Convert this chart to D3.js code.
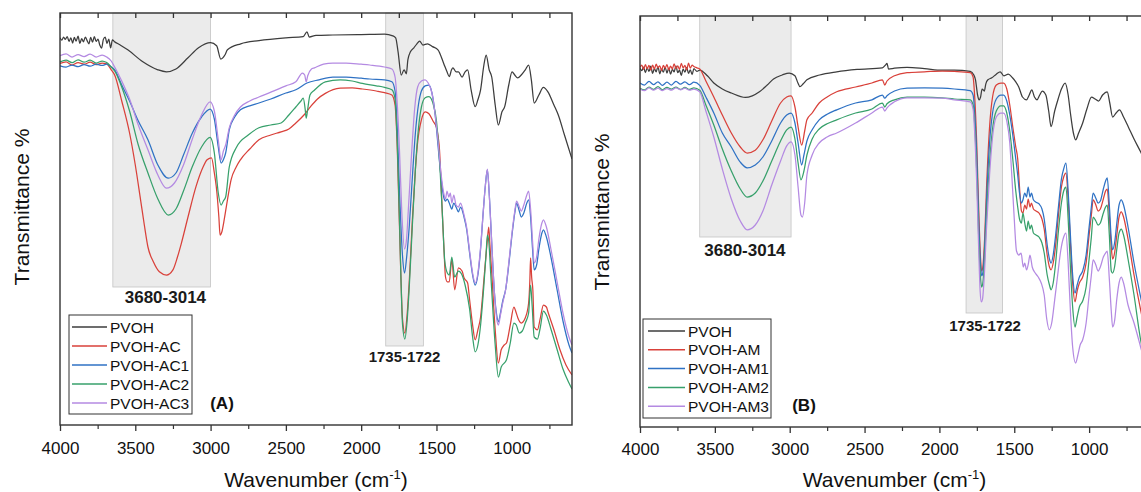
<!DOCTYPE html>
<html><head><meta charset="utf-8">
<script src="https://cdn.jsdelivr.net/npm/d3@7"></script>
<style>body{margin:0;background:#fff}svg{display:block}text{font-family:"Liberation Sans",Arial,sans-serif}</style>
</head><body>
<svg id="c" width="1141" height="492"></svg>
<script>
// ---------- DATA ----------
const majorTicks = [4000,3500,3000,2500,2000,1500,1000];
const minorTicks = [3750,3250,2750,2250,1750,1250,750];
const namesA = ["PVOH","PVOH-AC","PVOH-AC1","PVOH-AC2","PVOH-AC3"];
const namesB = ["PVOH","PVOH-AM","PVOH-AM1","PVOH-AM2","PVOH-AM3"];
const colors = ["#3d3d3d","#d9413a","#2f72c4","#37a06b","#b48ae2"];
const regionsA = [{from:3649,to:3000,bottom:34.5,label:"3680-3014",lx:3300,ly:30.5,fs:17},{from:1837,to:1587,bottom:19.75,label:"1735-1722",lx:1712,ly:15.75,fs:15}];
const regionsB = [{from:3601,to:2991,bottom:47.5,label:"3680-3014",lx:3299,ly:42.8,fs:17},{from:1822,to:1578,bottom:28.5,label:"1735-1722",lx:1695,ly:24,fs:15}];

// Panel A spectra [wavenumber, transmittance (a.u.)]
const pvohA = [[4000,96.8],[3988,96.2],[3976,97.0],[3965,96.4],[3952,97.1],[3940,95.9],[3928,96.8],[3916,95.5],[3905,96.9],[3893,96.0],[3880,97.2],[3868,95.4],[3856,96.6],[3844,95.8],[3832,97.0],[3820,96.1],[3808,95.3],[3796,96.9],[3784,95.7],[3772,97.1],[3760,95.9],[3748,96.5],[3736,95.0],[3724,94.2],[3712,96.4],[3700,97.0],[3688,95.4],[3676,96.5],[3664,94.3],[3652,96.3],[3640,95.9],[3600,95.0],[3550,93.8],[3450,90.8],[3350,88.8],[3293,88.3],[3230,89.0],[3150,91.8],[3080,94.3],[3000,95.6],[2960,94.8],[2932,91.5],[2905,92.5],[2888,93.8],[2800,95.3],[2679,96.1],[2500,96.8],[2385,97.1],[2360,98.3],[2345,97.0],[2300,97.4],[2188,97.5],[2000,97.6],[1845,97.7],[1790,97.3],[1771,96.8],[1755,93.3],[1734,87.5],[1715,88.8],[1700,87.8],[1690,91.3],[1673,93.3],[1650,94.3],[1630,95.3],[1612,96.0],[1590,95.0],[1560,95.3],[1526,94.6],[1490,93.8],[1452,90.4],[1430,88.3],[1415,87.1],[1400,88.8],[1391,89.3],[1370,88.3],[1354,88.3],[1330,87.0],[1310,88.3],[1293,88.8],[1270,83.8],[1243,79.6],[1225,81.3],[1207,83.8],[1185,90.0],[1170,92.5],[1150,88.8],[1133,87.0],[1110,80.0],[1089,75.0],[1065,78.3],[1047,79.6],[1020,85.0],[998,88.3],[980,87.5],[961,86.8],[937,87.5],[910,88.8],[888,90.0],[870,86.3],[851,80.5],[820,82.5],[790,84.4],[760,83.3],[720,80.0],[691,77.5],[650,72.5],[600,66.5]];
const acA = [[4000,90.4],[3960,90.8],[3920,90.0],[3880,90.6],[3840,90.2],[3800,90.7],[3760,90.1],[3720,90.5],[3690,90.3],[3660,88.8],[3637,87.5],[3590,81],[3538,73.0],[3500,65],[3465,56.3],[3440,50],[3416,44.5],[3380,40.8],[3340,38.3],[3293,37.5],[3250,38.8],[3220,42],[3195,45.3],[3150,52],[3097,59.6],[3050,64.5],[3023,66.3],[2994,66.8],[2975,63],[2962,59.5],[2945,52],[2937,47.5],[2925,48.3],[2912,50.8],[2888,56.3],[2864,61.3],[2830,64.5],[2802,66.3],[2740,69],[2679,71.3],[2600,72.5],[2532,73.3],[2480,74],[2434,75.5],[2380,77.5],[2336,79.6],[2290,81.5],[2238,82.9],[2139,84.2],[2060,84.3],[1992,84.0],[1900,83.5],[1845,83.1],[1796,82.5],[1775,80],[1760,68.8],[1745,48.8],[1725,26.3],[1710,23.0],[1695,27.5],[1680,36.3],[1660,51.3],[1640,63.8],[1627,70.0],[1600,76.3],[1575,78.3],[1550,77.8],[1520,75.8],[1501,74.5],[1480,68.8],[1465,56.3],[1450,43.8],[1440,37],[1428,35.8],[1415,35.8],[1398,41.3],[1379,33.8],[1354,39.3],[1330,38.5],[1317,36.8],[1293,35.5],[1280,31.3],[1260,25],[1243,21.3],[1225,23.8],[1207,27.0],[1185,36.3],[1170,43],[1162,46.3],[1153,49.5],[1145,45],[1133,38.0],[1110,23.8],[1089,15.5],[1070,18.8],[1050,20],[1035,20.5],[1010,25],[986,29.5],[970,28],[960,26.8],[937,25.5],[910,26.8],[888,30.5],[880,36],[875,41.8],[868,37],[860,33.8],[851,24.5],[830,23.8],[810,26.8],[790,30],[770,29.5],[760,28.3],[720,23.8],[680,18.8],[640,15],[600,12.5]];
const ac1A = [[4000,89.8],[3960,89.5],[3920,90.0],[3880,89.6],[3840,90.1],[3800,89.7],[3760,90.2],[3720,89.9],[3690,90.2],[3660,89.5],[3637,88.8],[3590,85],[3538,81],[3480,76],[3416,71.3],[3350,65],[3281,61.7],[3230,63],[3180,67.5],[3121,73],[3060,77],[3003,79],[2975,76.5],[2949,69.5],[2930,65.5],[2913,66.5],[2900,68],[2876,73.8],[2840,77],[2802,78.8],[2740,79.8],[2679,80.5],[2600,81.5],[2500,83],[2434,83.8],[2360,85.5],[2280,86.3],[2188,87],[2100,87],[2000,86.7],[1943,86.5],[1845,86.3],[1796,85.8],[1775,83.5],[1760,74],[1745,58],[1725,42],[1712,38],[1698,42],[1680,50],[1660,62],[1640,73],[1620,80],[1600,83.5],[1575,84.8],[1550,85],[1530,83],[1510,78],[1490,70],[1470,62],[1452,57],[1440,56],[1428,56.5],[1415,55.5],[1398,54],[1385,55.5],[1370,54.5],[1354,53.3],[1340,54.5],[1317,52],[1300,49],[1280,43],[1260,37.5],[1243,35],[1225,37.5],[1207,44],[1190,53],[1175,60],[1162,63.8],[1150,58],[1135,47],[1115,33],[1100,27.5],[1089,25.8],[1075,28],[1060,31],[1040,34],[1020,40],[1000,47],[980,53],[968,55.5],[950,53.5],[937,52],[920,53],[900,55.5],[888,56.3],[875,52],[862,44],[851,38.8],[835,40],[820,44],[800,48],[790,48.8],[770,47],[740,42],[700,34],[660,26],[620,20],[600,18]];
const ac2A = [[4000,90.8],[3960,91.2],[3920,90.6],[3880,91.3],[3840,90.7],[3800,91.2],[3760,90.5],[3720,91.0],[3690,90.6],[3660,89.5],[3637,88.5],[3590,84.5],[3538,78.5],[3480,70],[3416,63],[3350,56.5],[3281,52.5],[3230,54],[3180,58.5],[3121,64.6],[3060,69.5],[3003,71.9],[2975,68],[2949,58],[2930,55],[2915,56],[2900,57],[2876,64.5],[2827,69.5],[2750,72.5],[2679,74.3],[2600,75],[2532,75.5],[2480,77.5],[2434,79.5],[2400,81],[2385,81.7],[2372,79],[2365,76.7],[2355,79],[2340,82.5],[2311,83.7],[2238,85.8],[2139,86.3],[2060,86],[1992,85.4],[1900,84.8],[1845,84.4],[1796,83.8],[1775,81.5],[1760,70],[1745,50],[1725,25],[1710,21.5],[1695,26],[1680,35],[1660,50],[1640,64],[1620,74],[1600,79.5],[1575,81.8],[1550,82.1],[1520,80],[1500,76],[1477,64.5],[1460,52],[1445,41],[1428,38],[1415,37.5],[1398,42],[1379,37],[1354,38.5],[1330,37.5],[1310,35],[1280,29],[1260,22],[1243,18.3],[1225,20],[1207,25],[1185,35],[1170,43],[1162,47.5],[1153,46],[1140,38],[1110,20],[1089,12.0],[1070,14.5],[1035,16.3],[1010,20.5],[986,25.5],[970,25],[950,23],[930,23.5],[910,25.5],[888,28],[875,35],[865,30],[851,22],[830,21.5],[810,24.5],[790,28.5],[770,27.5],[740,24],[700,19],[660,14],[620,10.5],[600,9]];
const ac3A = [[4000,92.3],[3960,92.8],[3920,92.0],[3880,92.6],[3840,92.1],[3800,92.7],[3760,92.0],[3720,92.5],[3690,92.0],[3660,91],[3637,89.5],[3590,86],[3538,81.5],[3480,75],[3416,68.8],[3350,62.5],[3293,59.2],[3240,60.5],[3180,65],[3121,71.5],[3060,77.5],[3003,80.8],[2975,78.5],[2949,71.3],[2930,66.3],[2915,68.5],[2900,70],[2876,74.3],[2840,77.5],[2802,79.5],[2740,81],[2679,82],[2600,83.2],[2500,84.8],[2434,85.8],[2390,88],[2375,87.5],[2365,85.8],[2355,87.3],[2330,89],[2311,89.3],[2250,90.2],[2188,90.5],[2100,90.5],[2000,90.2],[1943,90],[1845,89.5],[1796,89],[1775,87],[1760,80],[1745,68],[1730,53],[1712,44],[1700,46],[1685,55],[1665,68],[1645,79],[1625,84.5],[1600,86],[1575,86.3],[1555,85.5],[1530,83],[1510,78],[1490,71],[1470,63],[1452,58],[1440,56.5],[1430,58.5],[1418,57],[1408,58],[1398,55.5],[1385,57.5],[1370,55],[1354,54.5],[1340,55.5],[1317,52.5],[1300,49.5],[1280,43.5],[1260,38],[1243,35.5],[1225,38],[1207,44.5],[1190,53],[1175,60],[1162,64],[1150,58],[1135,47],[1115,33],[1100,26.5],[1089,25],[1075,27.5],[1060,30.5],[1040,34],[1020,40.5],[1000,47.5],[980,53.5],[968,56],[950,54.5],[937,53.5],[920,55],[900,57.5],[888,58.5],[875,54],[862,46],[851,40.5],[835,42],[820,46.5],[800,50.5],[790,51.3],[770,49.5],[740,44],[700,36],[660,28],[620,22],[600,20]];

// Panel B spectra
const pvohB = [[4000,89.7],[3988,89.1],[3976,90.0],[3964,88.6],[3952,89.8],[3940,88.9],[3928,90.2],[3916,88.4],[3904,89.6],[3892,88.8],[3880,90.1],[3868,88.3],[3856,89.5],[3844,88.7],[3832,90.0],[3820,88.5],[3808,89.7],[3796,88.2],[3784,89.4],[3772,88.8],[3760,90.3],[3748,88.6],[3736,89.2],[3724,87.9],[3712,89.5],[3700,88.7],[3688,89.9],[3676,88.4],[3664,89.3],[3652,88.1],[3640,89.6],[3620,88.9],[3601,89.2],[3550,87.8],[3507,86],[3450,84.5],[3390,83.5],[3296,82.4],[3250,82.8],[3202,83.8],[3150,85.5],[3108,87],[3050,88],[3003,88.5],[2965,87.8],[2945,86],[2932,85.1],[2910,85.8],[2885,86.8],[2800,88],[2686,88.8],[2550,89.4],[2381,89.8],[2360,90.5],[2350,90.9],[2340,89.5],[2300,89.7],[2216,89.9],[2100,89.6],[1982,89.2],[1900,89.2],[1794,88.9],[1770,88],[1759,86.8],[1745,83],[1735,81.8],[1725,82.5],[1715,84.5],[1700,84],[1690,85.8],[1676,86.8],[1650,87.3],[1620,88.2],[1594,88.8],[1570,87.8],[1540,88.2],[1512,87.3],[1490,86.3],[1470,85],[1445,82.5],[1418,81.8],[1400,83],[1383,84.3],[1365,82.5],[1348,81.8],[1330,83],[1313,84],[1289,83],[1270,79],[1254,75.1],[1230,79],[1207,82],[1185,84.5],[1160,86],[1140,83],[1125,78.5],[1105,73.5],[1090,71.8],[1070,73.5],[1043,76],[1015,79.5],[984,82.5],[960,82],[937,81.5],[910,83],[879,83.8],[862,81],[843,77.5],[820,78.5],[797,79.3],[770,77.5],[738,75],[700,72],[656,68.8],[620,66],[600,64.5]];
const amB = [[4000,89.9],[3988,90.5],[3976,89.4],[3964,90.6],[3952,89.6],[3940,90.4],[3928,89.2],[3916,90.5],[3904,89.5],[3892,90.7],[3880,89.8],[3868,90.3],[3856,89.1],[3844,90.4],[3832,89.7],[3820,90.6],[3808,89.3],[3796,90.2],[3784,89.5],[3772,90.8],[3760,89.6],[3748,90.3],[3736,89.4],[3724,90.9],[3712,89.8],[3700,90.4],[3688,89.3],[3676,91.0],[3664,89.7],[3652,90.5],[3640,90.1],[3620,89.8],[3601,89.5],[3560,86.5],[3507,82.5],[3450,78],[3390,73.5],[3330,70],[3284,68.5],[3230,69.2],[3179,71.8],[3120,76.5],[3061,81],[3020,82.5],[2991,82.8],[2965,80],[2944,75],[2920,70.5],[2900,74],[2885,76.8],[2850,78.5],[2803,81],[2750,82.5],[2686,83.8],[2560,85],[2451,86],[2381,86.8],[2365,85.5],[2350,86.5],[2300,87.8],[2216,88.6],[2100,88.8],[1982,89],[1900,88.9],[1794,88.6],[1775,87.5],[1765,83],[1750,70],[1738,55],[1725,42],[1718,39],[1710,40],[1698,47],[1685,60],[1665,75],[1645,82.5],[1620,85.5],[1590,86],[1571,86],[1550,84.5],[1530,80.5],[1510,75],[1490,70],[1477,67],[1465,60],[1452,54],[1442,53.5],[1430,55.5],[1418,54.5],[1407,57],[1395,55],[1385,56],[1372,54.5],[1355,54],[1335,53.5],[1315,52],[1300,49.5],[1280,43],[1265,40],[1254,39.3],[1240,41],[1225,45],[1205,53],[1185,60],[1170,62.5],[1155,63.5],[1140,57],[1125,46],[1110,36],[1094,31.3],[1080,34],[1065,36],[1043,37.5],[1020,41],[1000,48],[985,53],[973,56.8],[955,55.5],[940,54],[925,54.5],[905,57],[890,59],[879,59.5],[865,53],[852,45],[843,42],[830,43.5],[815,48],[800,52.5],[785,53.8],[770,52.5],[740,47],[700,38],[656,29.3],[620,23],[600,20]];
const am1B = [[4000,86.0],[3970,85.5],[3940,86.4],[3910,85.6],[3880,86.3],[3850,85.4],[3820,86.2],[3790,85.5],[3760,86.4],[3730,85.7],[3700,86.3],[3670,85.6],[3640,86.2],[3601,85.4],[3560,82.5],[3507,78.5],[3450,73.5],[3390,70],[3330,66.2],[3284,64.8],[3230,65.5],[3179,67.5],[3120,71.5],[3061,76],[3020,78],[2991,78.5],[2965,76],[2944,71],[2920,65.5],[2905,68],[2885,71.5],[2850,74.3],[2803,76.8],[2750,78.2],[2686,79.3],[2560,81],[2451,81.8],[2381,83],[2365,82.2],[2350,82.8],[2300,84],[2216,84.7],[2100,84.8],[1982,84.7],[1900,84.5],[1794,84.1],[1775,83],[1765,79],[1750,67],[1738,52],[1725,40.5],[1718,37.8],[1710,38.5],[1698,45],[1685,57],[1665,71],[1645,78.5],[1620,82],[1590,83],[1571,83],[1550,81.5],[1530,78],[1510,73],[1490,67],[1477,63],[1465,58.5],[1452,56],[1442,56.8],[1430,58.5],[1418,57.5],[1407,60],[1395,57.5],[1385,58.5],[1372,56.8],[1355,56.2],[1335,55.8],[1315,54.5],[1300,52],[1280,45.5],[1265,42],[1254,41],[1240,43],[1225,47.5],[1205,55],[1185,62],[1170,64.5],[1155,66],[1140,59],[1125,48],[1110,38],[1094,33.5],[1080,35.5],[1065,37.5],[1043,39],[1020,43],[1000,50],[985,55],[973,58.5],[955,57.2],[940,56],[925,56.5],[905,59.5],[890,61.5],[879,62.3],[865,55.5],[852,47],[843,44.3],[830,46],[815,51],[800,55.5],[785,56.8],[770,55.5],[740,50],[700,41],[656,32.5],[620,26],[600,23]];
const am2B = [[4000,84.7],[3970,84.3],[3940,85.0],[3910,84.4],[3880,85.1],[3850,84.3],[3820,84.9],[3790,84.5],[3760,85.0],[3730,84.4],[3700,84.9],[3670,84.4],[3640,84.8],[3601,84.2],[3560,80.5],[3507,75.5],[3450,69.5],[3390,64],[3330,59.5],[3284,57.5],[3230,58.5],[3179,61.5],[3120,66.5],[3061,71.5],[3020,74.3],[2991,75],[2965,72],[2944,66],[2925,61.8],[2905,64],[2885,68],[2850,72],[2803,74.5],[2750,75.8],[2686,76.8],[2560,78.5],[2451,79.5],[2381,81],[2365,80],[2350,80.8],[2300,81.8],[2216,82.5],[2100,82.5],[1982,82.3],[1900,82],[1794,81.8],[1775,80.5],[1765,76],[1750,63],[1738,48],[1725,37],[1718,35],[1710,36],[1698,42],[1685,53],[1665,66],[1645,74.5],[1620,79],[1590,80.3],[1571,80.3],[1550,78.5],[1530,74],[1510,67],[1490,59],[1477,55],[1465,52],[1452,51],[1442,53.5],[1430,51],[1418,49],[1407,51.5],[1395,49.5],[1385,50.5],[1372,48.5],[1355,48],[1335,47.5],[1315,46],[1300,43.5],[1280,38],[1265,35.5],[1254,34.3],[1240,36],[1225,40.5],[1205,49],[1185,56],[1170,59],[1155,60],[1140,52],[1125,40],[1110,30],[1094,25],[1080,27.5],[1065,30],[1043,31.5],[1020,35],[1000,42],[985,47.5],[973,52.5],[955,51.5],[940,50.5],[925,51],[905,53.5],[890,55],[879,55.5],[865,48],[852,39],[843,38.5],[830,40],[815,44.5],[800,48.5],[785,49.5],[770,48],[740,42],[700,33],[656,21.8],[620,16],[600,13]];
const am3B = [[4000,84.5],[3970,84.1],[3940,84.8],[3910,84.2],[3880,84.7],[3850,84.1],[3820,84.6],[3790,84.2],[3760,84.8],[3730,84.3],[3700,84.7],[3670,84.2],[3640,84.5],[3601,83.8],[3560,79],[3507,72.5],[3450,64.5],[3390,57],[3330,51.5],[3284,49.3],[3230,50.5],[3179,54],[3120,60.5],[3061,66.5],[3020,70.3],[2991,71.3],[2965,68],[2944,60],[2925,53],[2915,52.5],[2900,56],[2885,63],[2850,68],[2803,71],[2750,72.5],[2686,73.5],[2560,76],[2451,78.5],[2381,80],[2365,79],[2350,79.8],[2300,81.3],[2216,82.3],[2100,82.3],[1982,82.2],[1900,81.8],[1794,81.3],[1775,79.5],[1765,74],[1750,60],[1738,45],[1728,34],[1720,31.3],[1712,32],[1700,38],[1685,50],[1665,63],[1645,72.5],[1620,77.5],[1590,78.5],[1571,78.5],[1550,76.5],[1530,71],[1515,62],[1500,52],[1485,44],[1470,43],[1454,43.5],[1440,40],[1430,41],[1418,39.3],[1405,41],[1395,43],[1380,40],[1360,38.5],[1340,37.5],[1320,36],[1300,33],[1283,27],[1266,24.3],[1250,26],[1230,31.8],[1210,38],[1190,44],[1170,47.5],[1155,48.5],[1140,41],[1125,29],[1110,20],[1090,16],[1075,18],[1060,20.5],[1043,21.8],[1020,26],[1000,33],[985,38],[973,41.8],[955,40.5],[940,39],[925,40],[905,42.5],[890,43.5],[879,44],[865,37],[852,29],[843,25],[830,26.5],[815,32],[800,36],[785,37.5],[770,36],[740,30.5],[700,26],[656,20],[620,15],[600,12]];

// ---------- DRAW ----------
const svg = d3.select("#c");
function panel(cfg){
  const x = d3.scaleLinear().domain([4000,600]).range([cfg.x0,cfg.x1]);
  const y = d3.scaleLinear().domain([0,(cfg.y1-cfg.y0)/4]).range([cfg.y1,cfg.y0]);
  const g = svg.append("g");
  const cid = "clip"+cfg.id;
  g.append("clipPath").attr("id",cid).append("rect")
    .attr("x",cfg.x0).attr("y",cfg.y0).attr("width",cfg.x1-cfg.x0).attr("height",cfg.y1-cfg.y0);
  // shaded regions
  cfg.regions.forEach(r=>{
    g.append("rect").attr("x",x(r.from)).attr("y",cfg.y0)
      .attr("width",x(r.to)-x(r.from)).attr("height",y(r.bottom)-cfg.y0)
      .attr("fill","#ebebeb").attr("stroke","#c4c4c4").attr("stroke-width",0.8);
    g.append("text").attr("x",x(r.lx)).attr("y",y(r.ly)).attr("text-anchor","middle")
      .attr("font-size",r.fs).attr("font-weight","bold").attr("fill","#1a1a1a").text(r.label);
  });
  // spectra
  const line = d3.line().x(d=>x(d[0])).y(d=>y(d[1])).curve(d3.curveMonotoneX);
  const lg = g.append("g").attr("clip-path",`url(#${cid})`);
  cfg.series.forEach((s,i)=>{
    lg.append("path").attr("d",line(s)).attr("fill","none")
      .attr("stroke",colors[i]).attr("stroke-width",1.25).attr("stroke-linejoin","round");
  });
  // axes
  const bot = g.append("g").attr("transform",`translate(0,${cfg.y1})`)
    .call(d3.axisBottom(x).tickValues(majorTicks).tickSize(6).tickPadding(cfg.pad).tickFormat(d3.format("d")));
  bot.select(".domain").remove();
  bot.selectAll("text").attr("font-size",17).attr("fill","#111").attr("font-family","Liberation Sans, Arial, sans-serif");
  bot.selectAll("line").attr("stroke","#333").attr("stroke-width",1.3);
  const botm = g.append("g").attr("transform",`translate(0,${cfg.y1})`)
    .call(d3.axisBottom(x).tickValues(minorTicks).tickSize(4).tickFormat(""));
  botm.select(".domain").remove();
  botm.selectAll("line").attr("stroke","#333").attr("stroke-width",1.2);
  const top = g.append("g").attr("transform",`translate(0,${cfg.y0})`)
    .call(d3.axisBottom(x).tickValues(majorTicks.concat(minorTicks)).tickSize(5).tickFormat(""));
  top.select(".domain").remove();
  top.selectAll("line").attr("stroke","#333").attr("stroke-width",1.3);
  // frame
  g.append("rect").attr("x",cfg.x0).attr("y",cfg.y0).attr("width",cfg.x1-cfg.x0).attr("height",cfg.y1-cfg.y0)
    .attr("fill","none").attr("stroke","#333").attr("stroke-width",1.4);
  // axis titles
  const xt = g.append("text").attr("x",(cfg.x0+cfg.x1)/2).attr("y",487).attr("text-anchor","middle")
    .attr("font-size",21).attr("fill","#111");
  xt.append("tspan").text("Wavenumber (cm");
  xt.append("tspan").attr("dy",-8).attr("font-size",13).text("-1");
  xt.append("tspan").attr("dy",8).text(")");
  g.append("text").attr("transform",`translate(${cfg.ytx},${cfg.yty}) rotate(-90)`).attr("text-anchor","middle")
    .attr("font-size",21).attr("fill","#111").text("Transmittance %");
  // legend
  const L = cfg.legend;
  g.append("rect").attr("x",L.x).attr("y",L.y).attr("width",L.w).attr("height",L.h)
    .attr("fill","#fff").attr("stroke","#333").attr("stroke-width",1);
  cfg.names.forEach((n,i)=>{
    const yy = L.y + 12 + i*L.step;
    g.append("line").attr("x1",L.lx1).attr("x2",L.lx2).attr("y1",yy).attr("y2",yy)
      .attr("stroke",colors[i]).attr("stroke-width",1.5);
    g.append("text").attr("x",L.tx).attr("y",yy+5.5).attr("font-size",15.5).attr("fill","#111").text(n);
  });
  g.append("text").attr("x",cfg.tagX).attr("y",cfg.tagY).attr("text-anchor","middle")
    .attr("font-size",17).attr("font-weight","bold").attr("fill","#111").text(cfg.tag);
}
panel({id:"A",x0:60,x1:572,y0:13,y1:425,pad:11,series:[pvohA,acA,ac1A,ac2A,ac3A],names:namesA,regions:regionsA,
  ytx:29,yty:207,legend:{x:69,y:315,w:123,h:99,step:19,lx1:72,lx2:107,tx:110},tag:"(A)",tagX:222,tagY:409});
panel({id:"B",x0:640,x1:1149,y0:16,y1:427,pad:10,series:[pvohB,amB,am1B,am2B,am3B],names:namesB,regions:regionsB,
  ytx:609,yty:212,legend:{x:643,y:319,w:128,h:99,step:18.8,lx1:648,lx2:685,tx:688},tag:"(B)",tagX:804,tagY:411});
</script>
</body></html>
